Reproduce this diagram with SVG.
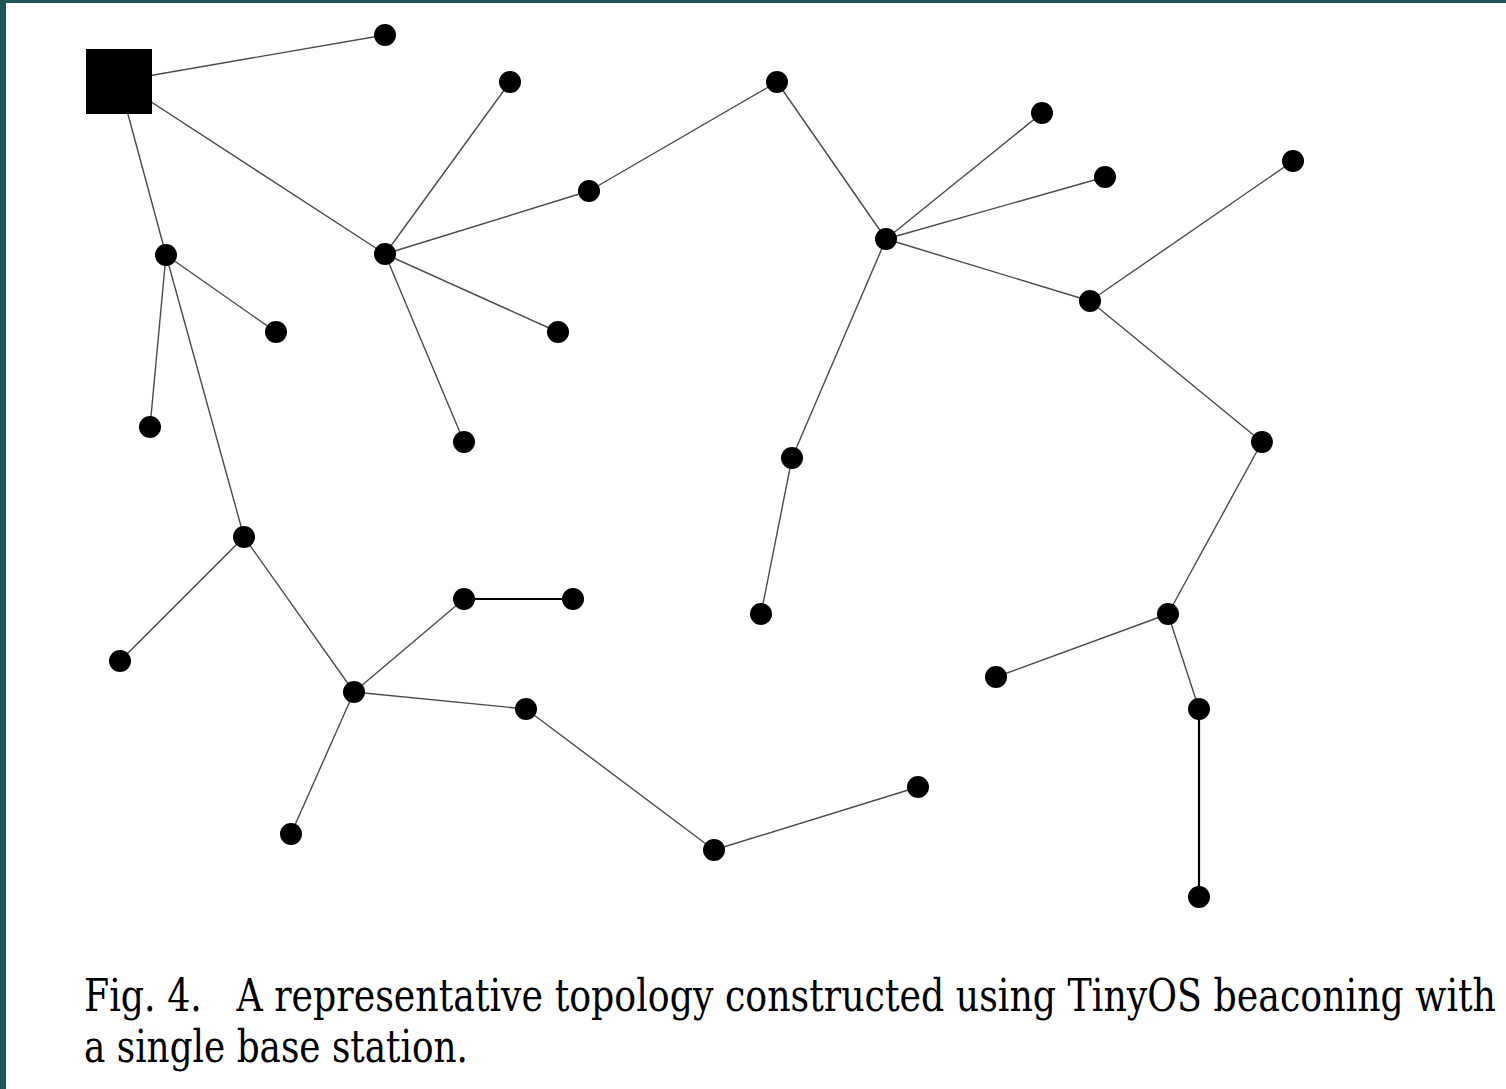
<svg xmlns="http://www.w3.org/2000/svg" width="1506" height="1089" viewBox="0 0 1506 1089">
<style>
.e{stroke:#4a4a4a;stroke-width:1.4;fill:none}
.t{stroke:#000;stroke-width:2.2;fill:none}
.n{fill:#000}
</style>
<rect x="0" y="0" width="1506" height="1089" fill="#fff"/>
<rect x="0" y="0" width="1506" height="3" fill="#1d5558"/>
<rect x="0" y="0" width="6" height="1089" fill="#1d5558"/>
<g id="connectors">
<line class="e" x1="119" y1="81" x2="385" y2="35"/>
<line class="e" x1="119" y1="81" x2="385" y2="254"/>
<line class="e" x1="119" y1="81" x2="166" y2="255"/>
<line class="e" x1="166" y1="255" x2="276" y2="332"/>
<line class="e" x1="166" y1="255" x2="150" y2="427"/>
<line class="e" x1="166" y1="255" x2="244" y2="537"/>
<line class="e" x1="385" y1="254" x2="510" y2="82"/>
<line class="e" x1="385" y1="254" x2="589" y2="191"/>
<line class="e" x1="385" y1="254" x2="558" y2="332"/>
<line class="e" x1="385" y1="254" x2="464" y2="442"/>
<line class="e" x1="589" y1="191" x2="777" y2="82"/>
<line class="e" x1="777" y1="82" x2="886" y2="239"/>
<line class="e" x1="886" y1="239" x2="1042" y2="113"/>
<line class="e" x1="886" y1="239" x2="1105" y2="177"/>
<line class="e" x1="886" y1="239" x2="1090" y2="301"/>
<line class="e" x1="886" y1="239" x2="792" y2="458"/>
<line class="e" x1="792" y1="458" x2="761" y2="614"/>
<line class="e" x1="1090" y1="301" x2="1293" y2="161"/>
<line class="e" x1="1090" y1="301" x2="1262" y2="442"/>
<line class="e" x1="1262" y1="442" x2="1168" y2="614"/>
<line class="e" x1="1168" y1="614" x2="996" y2="677"/>
<line class="e" x1="1168" y1="614" x2="1199" y2="709"/>
<line class="t" x1="1199" y1="709" x2="1199" y2="897"/>
<line class="e" x1="244" y1="537" x2="120" y2="661"/>
<line class="e" x1="244" y1="537" x2="354" y2="692"/>
<line class="e" x1="354" y1="692" x2="464" y2="599"/>
<line class="t" x1="464" y1="599" x2="573" y2="599" style="stroke-width:1.8"/>
<line class="e" x1="354" y1="692" x2="526" y2="709"/>
<line class="e" x1="354" y1="692" x2="291" y2="834"/>
<line class="e" x1="526" y1="709" x2="714" y2="850"/>
<line class="e" x1="714" y1="850" x2="918" y2="787"/>
</g>
<g id="base"><rect class="n" x="86" y="49" width="66" height="65"/></g>
<g id="n1"><circle class="n" cx="385" cy="35" r="11"/></g>
<g id="n2"><circle class="n" cx="510" cy="82" r="11"/></g>
<g id="n3"><circle class="n" cx="777" cy="82" r="11"/></g>
<g id="n4"><circle class="n" cx="1042" cy="113" r="11"/></g>
<g id="n5"><circle class="n" cx="1105" cy="177" r="11"/></g>
<g id="n6"><circle class="n" cx="1293" cy="161" r="11"/></g>
<g id="n7"><circle class="n" cx="589" cy="191" r="11"/></g>
<g id="n8"><circle class="n" cx="886" cy="239" r="11"/></g>
<g id="n9"><circle class="n" cx="166" cy="255" r="11"/></g>
<g id="n10"><circle class="n" cx="385" cy="254" r="11"/></g>
<g id="n11"><circle class="n" cx="276" cy="332" r="11"/></g>
<g id="n12"><circle class="n" cx="558" cy="332" r="11"/></g>
<g id="n13"><circle class="n" cx="1090" cy="301" r="11"/></g>
<g id="n14"><circle class="n" cx="150" cy="427" r="11"/></g>
<g id="n15"><circle class="n" cx="464" cy="442" r="11"/></g>
<g id="n16"><circle class="n" cx="792" cy="458" r="11"/></g>
<g id="n17"><circle class="n" cx="1262" cy="442" r="11"/></g>
<g id="n18"><circle class="n" cx="244" cy="537" r="11"/></g>
<g id="n19"><circle class="n" cx="464" cy="599" r="11"/></g>
<g id="n20"><circle class="n" cx="573" cy="599" r="11"/></g>
<g id="n21"><circle class="n" cx="761" cy="614" r="11"/></g>
<g id="n22"><circle class="n" cx="1168" cy="614" r="11"/></g>
<g id="n23"><circle class="n" cx="120" cy="661" r="11"/></g>
<g id="n24"><circle class="n" cx="354" cy="692" r="11"/></g>
<g id="n25"><circle class="n" cx="526" cy="709" r="11"/></g>
<g id="n26"><circle class="n" cx="996" cy="677" r="11"/></g>
<g id="n27"><circle class="n" cx="1199" cy="709" r="11"/></g>
<g id="n28"><circle class="n" cx="918" cy="787" r="11"/></g>
<g id="n29"><circle class="n" cx="291" cy="834" r="11"/></g>
<g id="n30"><circle class="n" cx="714" cy="850" r="11"/></g>
<g id="n31"><circle class="n" cx="1199" cy="897" r="11"/></g>
<g id="caption">
<text x="84" y="1011" font-family="DejaVu Serif, serif" font-size="44" textLength="1412" lengthAdjust="spacingAndGlyphs" xml:space="preserve">Fig. 4.   A representative topology constructed using TinyOS beaconing with</text>
<text x="84" y="1062" font-family="DejaVu Serif, serif" font-size="44" textLength="384" lengthAdjust="spacingAndGlyphs">a single base station.</text>
</g>
</svg>
